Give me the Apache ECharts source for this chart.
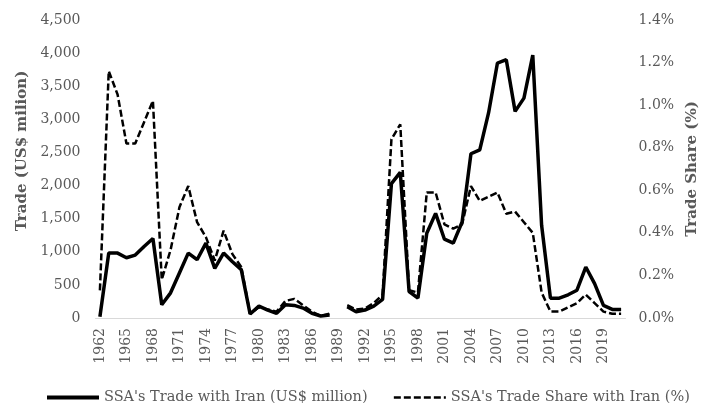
<!DOCTYPE html>
<html>
<head>
<meta charset="utf-8">
<script src="https://cdn.jsdelivr.net/npm/echarts@6/dist/echarts.min.js"></script>
<style>
html,body{margin:0;padding:0;background:#fff;}
#chart{width:708px;height:403px;}
</style>
</head>
<body>
<div id="chart"></div>
<script>
var years = ['1962','1963','1964','1965','1966','1967','1968','1969','1970','1971',
'1972','1973','1974','1975','1976','1977','1978','1979','1980','1981',
'1982','1983','1984','1985','1986','1987','1988','1989','1990','1991',
'1992','1993','1994','1995','1996','1997','1998','1999','2000','2001',
'2002','2003','2004','2005','2006','2007','2008','2009','2010','2011',
'2012','2013','2014','2015','2016','2017','2018','2019','2020','2021'];

var tradeValues = [20,980,980,910,950,1080,1200,200,380,680,
980,880,1130,750,980,850,730,60,180,120,
70,200,190,150,70,30,45,null,170,95,
120,180,280,2030,2200,400,300,1280,1580,1190,
1130,1450,2480,2540,3100,3850,3900,3120,3320,3970,
1400,300,300,350,420,770,520,190,130,130];

var shareValues = [0.13,1.16,1.05,0.82,0.82,0.92,1.02,0.18,0.32,0.52,
0.62,0.45,0.38,0.27,0.41,0.30,0.24,0.02,0.05,0.04,
0.03,0.08,0.09,0.06,0.03,0.01,0.02,null,0.06,0.04,
0.045,0.07,0.11,0.84,0.91,0.13,0.12,0.59,0.59,0.44,
0.42,0.44,0.62,0.55,0.57,0.59,0.49,0.50,0.45,0.40,
0.12,0.03,0.03,0.05,0.07,0.11,0.07,0.03,0.02,0.02];

var leftTitle = 'Trade (US$ milion)';
var rightTitle = 'Trade Share (%)';
var tradeName = "SSA's Trade with Iran (US$ million)";
var shareName = "SSA's Trade Share with Iran (%)";

var FONT = 'DejaVu Serif';
var GRAY = '#595959';

var chart = echarts.init(document.getElementById('chart'), null, {renderer:'canvas'});
chart.setOption({
  animation:false,
  backgroundColor:'#fff',
  textStyle:{fontFamily:FONT},
  grid:{left:95.5, right:78, top:20, bottom:85, containLabel:false},
  legend:{
    top:385, left:40,
    itemWidth:52, itemHeight:12, itemGap:25,
    itemStyle:{opacity:0},
    textStyle:{fontFamily:FONT, fontSize:14.5, color:GRAY},
    data:[
      {name:tradeName, lineStyle:{width:4, color:'#000', opacity:1}},
      {name:shareName, lineStyle:{width:2.5, color:'#000', type:[7,3], opacity:1}}
    ]
  },
  xAxis:{
    type:'category', data:years, boundaryGap:true,
    axisLine:{show:true, lineStyle:{color:'#d9d9d9', width:1}},
    axisTick:{show:false},
    axisLabel:{rotate:90, interval:2, margin:10, fontFamily:FONT, fontSize:14, color:GRAY}
  },
  yAxis:[{
    type:'value', min:0, max:4500, interval:500,
    name:leftTitle, nameLocation:'middle', nameGap:63, nameRotate:90,
    nameTextStyle:{fontFamily:FONT, fontSize:15, fontWeight:'bold', color:GRAY, padding:[0,0,0,36]},
    axisLine:{show:false}, axisTick:{show:false}, splitLine:{show:false},
    axisLabel:{margin:15, fontFamily:FONT, fontSize:14, color:GRAY,
      formatter:function(v){return v.toLocaleString('en-US');}}
  },{
    type:'value', min:0, max:1.4, interval:0.2,
    name:rightTitle, nameLocation:'middle', nameGap:58, nameRotate:90,
    nameTextStyle:{fontFamily:FONT, fontSize:15, fontWeight:'bold', color:GRAY},
    axisLine:{show:false}, axisTick:{show:false}, splitLine:{show:false},
    axisLabel:{margin:13, fontFamily:FONT, fontSize:14, color:GRAY,
      formatter:function(v){return v.toFixed(1)+'%';}}
  }],
  series:[{
    name:tradeName, type:'line', yAxisIndex:0, data:tradeValues,
    symbol:'none', connectNulls:false,
    lineStyle:{color:'#000', width:3.5}, itemStyle:{color:'#000'}
  },{
    name:shareName, type:'line', yAxisIndex:1, data:shareValues,
    symbol:'none', connectNulls:false,
    lineStyle:{color:'#000', width:2.5, type:[7,3]}, itemStyle:{color:'#000'}
  }]
});
</script>
</body>
</html>
